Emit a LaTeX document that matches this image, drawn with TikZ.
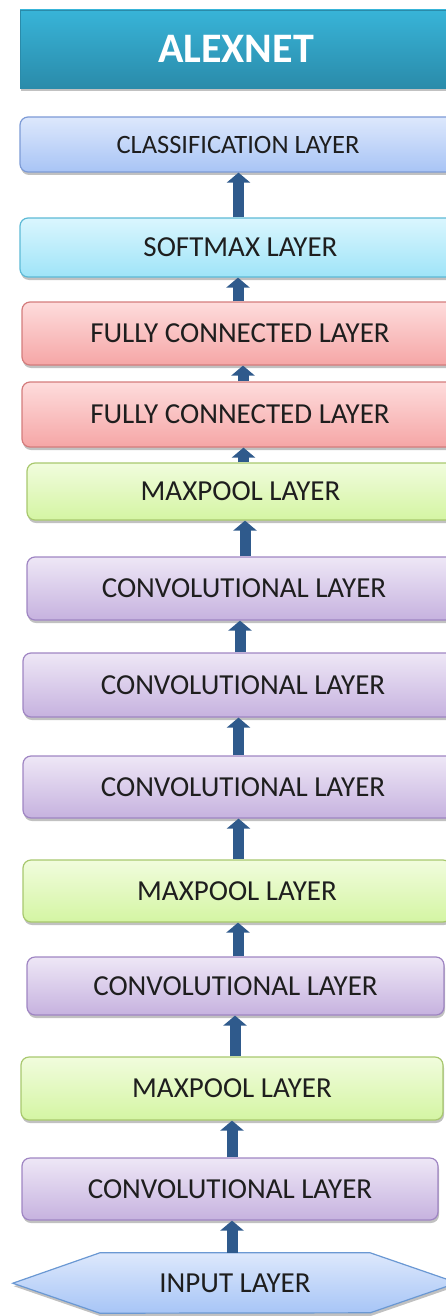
\documentclass[tikz,border=0pt]{standalone}
\usepackage{fontspec}
\setmainfont{Carlito}
\usetikzlibrary{arrows.meta,shadows,backgrounds}
\definecolor{arrowblue}{HTML}{2F5A8C}
\definecolor{txt}{HTML}{1E1E1E}
\definecolor{titletop}{HTML}{38B4D8}
\definecolor{titlebot}{HTML}{2A8BAA}
\definecolor{clstop}{HTML}{DDE8FC}
\definecolor{clsbot}{HTML}{A8C4F5}
\definecolor{clsdraw}{HTML}{7D9BD6}
\definecolor{smtop}{HTML}{DAF6FE}
\definecolor{smbot}{HTML}{9FE4F8}
\definecolor{smdraw}{HTML}{5DBAD6}
\definecolor{fctop}{HTML}{FEDCDC}
\definecolor{fcbot}{HTML}{F5A6A6}
\definecolor{fcdraw}{HTML}{D47C7C}
\definecolor{mptop}{HTML}{F1FCDD}
\definecolor{mpbot}{HTML}{D4F5A3}
\definecolor{mpdraw}{HTML}{A8C86E}
\definecolor{cvtop}{HTML}{EEE7F6}
\definecolor{cvbot}{HTML}{C6B2DF}
\definecolor{cvdraw}{HTML}{9F85C3}
\definecolor{intop}{HTML}{DDE8FC}
\definecolor{inbot}{HTML}{A7C5F6}
\definecolor{indraw}{HTML}{6A98D3}
\tikzset{
  shad/.style={drop shadow={shadow xshift=1pt,shadow yshift=-3pt,opacity=0.35,fill=black!70}},
  layerbox/.style={rectangle,rounded corners=8pt,inner sep=0pt,line width=1.2pt,
    text=txt,font=\fontsize{29}{32}\selectfont,shad},
  titlebox/.style={rectangle,inner sep=0pt,draw=titlebot,line width=0.8pt,
    top color=titletop,bottom color=titlebot,text=white,
    font=\fontsize{42}{46}\selectfont\bfseries,shad},
  clsbox/.style={layerbox,draw=clsdraw,top color=clstop,bottom color=clsbot,
    font=\fontsize{26.5}{30}\selectfont},
  smbox/.style={layerbox,draw=smdraw,top color=smtop,bottom color=smbot},
  fcbox/.style={layerbox,draw=fcdraw,top color=fctop,bottom color=fcbot},
  mpbox/.style={layerbox,draw=mpdraw,top color=mptop,bottom color=mpbot},
  cvbox/.style={layerbox,draw=cvdraw,top color=cvtop,bottom color=cvbot},
  inbox/.style={rectangle,inner sep=0pt,text=txt,font=\fontsize{29}{32}\selectfont},
  hexfill/.style={draw=indraw,line width=1.2pt,top color=intop,bottom color=inbot,
    line join=miter,shad},
  uparrow/.style={draw=arrowblue,line width=11pt,
    -{Triangle[width=23pt,length=10pt]}},
}
\begin{document}
\begin{tikzpicture}[x=1pt,y=-1pt]
\useasboundingbox (0,0) rectangle (446,1316);
\node[titlebox,minimum width=432pt,minimum height=78pt] (title) at (236,49) {ALEXNET};
\node[clsbox,minimum width=436pt,minimum height=55pt] (cls) at (238,144.5) {CLASSIFICATION LAYER};
\node[smbox,minimum width=441pt,minimum height=59pt] (sm) at (240.5,247.5) {SOFTMAX LAYER};
\node[fcbox,minimum width=436pt,minimum height=63pt] (fc1) at (240,333.5) {FULLY CONNECTED LAYER};
\node[fcbox,minimum width=436pt,minimum height=65pt] (fc2) at (240,414.5) {FULLY CONNECTED LAYER};
\node[mpbox,minimum width=427pt,minimum height=57pt] (mp1) at (240.5,491.5) {MAXPOOL LAYER};
\node[cvbox,minimum width=434pt,minimum height=63pt] (cv1) at (244,588.5) {CONVOLUTIONAL LAYER};
\node[cvbox,minimum width=440pt,minimum height=64pt] (cv2) at (243,685) {CONVOLUTIONAL LAYER};
\node[cvbox,minimum width=440pt,minimum height=62pt] (cv3) at (243,787) {CONVOLUTIONAL LAYER};
\node[mpbox,minimum width=428pt,minimum height=62pt] (mp2) at (237,891) {MAXPOOL LAYER};
\node[cvbox,minimum width=417pt,minimum height=58pt] (cv4) at (235.5,986) {CONVOLUTIONAL LAYER};
\node[mpbox,minimum width=422pt,minimum height=63pt] (mp3) at (232,1088.5) {MAXPOOL LAYER};
\node[cvbox,minimum width=416pt,minimum height=62pt] (cv5) at (230,1189) {CONVOLUTIONAL LAYER};
\node[inbox,minimum width=270pt,minimum height=60pt] (inp) at (235,1283) {INPUT LAYER};
\begin{scope}[on background layer]
\path[hexfill] (inp.north west) -- (inp.north east) -- ++(87,30) -- ++(-87,30)
  -- (inp.south west) -- ++(-87,-30) -- cycle;
\end{scope}
\draw[uparrow] (sm.north -| 238.5,0) -- (cls.south -| 238.5,0);
\draw[uparrow] (fc1.north -| 238,0) -- (sm.south -| 238,0);
\draw[uparrow] (fc2.north -| 243,0) -- (fc1.south -| 243,0);
\draw[uparrow] (mp1.north -| 243.5,0) -- (fc2.south -| 243.5,0);
\draw[uparrow] (cv1.north -| 245,0) -- (mp1.south -| 245,0);
\draw[uparrow] (cv2.north -| 240,0) -- (cv1.south -| 240,0);
\draw[uparrow] (cv3.north -| 238.5,0) -- (cv2.south -| 238.5,0);
\draw[uparrow] (mp2.north -| 238.5,0) -- (cv3.south -| 238.5,0);
\draw[uparrow] (cv4.north -| 238,0) -- (mp2.south -| 238,0);
\draw[uparrow] (mp3.north -| 235,0) -- (cv4.south -| 235,0);
\draw[uparrow] (cv5.north -| 232,0) -- (mp3.south -| 232,0);
\draw[uparrow] (inp.north -| 232,0) -- (cv5.south -| 232,0);
\end{tikzpicture}
\end{document}
